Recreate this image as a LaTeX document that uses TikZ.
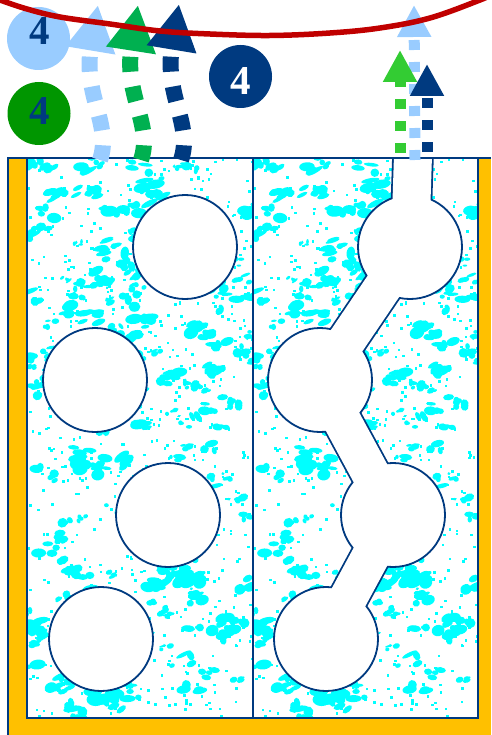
\documentclass[tikz,border=0pt]{standalone}
\usepackage{fontspec}
\setmainfont{Liberation Serif}
\usetikzlibrary{arrows.meta,positioning}
\definecolor{PoreNavy}{RGB}{0,58,128}
\definecolor{PoreSky}{RGB}{153,204,255}
\definecolor{PoreGreen}{RGB}{0,176,80}
\definecolor{PoreLime}{RGB}{51,204,51}
\definecolor{PoreLeaf}{RGB}{0,150,0}
\definecolor{PoreRed}{RGB}{192,0,0}
\definecolor{PoreGold}{RGB}{255,192,0}
\definecolor{PoreCyan}{RGB}{0,255,255}
\tikzset{
  pore/panel/.style={draw=PoreNavy, line width=1.8pt},
  pore/hole/.style={
    circle,
    draw=PoreNavy,
    line width=1.8pt,
    fill=white,
    minimum size=104pt,
    inner sep=0pt
  },
  pore/badge/.style={circle, minimum size=63pt, inner sep=0pt},
  pore/digit/.style={font=\fontsize{41}{41}\selectfont\bfseries, inner sep=0pt},
  pore/bigflow/.style={
    line width=16pt,
    dash pattern=on 15pt off 15pt,
    -{Triangle[width=47pt,length=46pt]}
  },
  pore/smallflow/.style={
    line width=11pt,
    dash pattern=on 10pt off 12pt,
    -{Triangle[width=32pt,length=32pt]}
  },
  pore/speck/.style={fill=PoreCyan}
}

\begin{document}
\begin{tikzpicture}[x=1pt,y=-1pt]
  \useasboundingbox (0,0) rectangle (491,735);

  % gold casing
  \fill[PoreGold] (8,158) rectangle (491,735);
  \draw[PoreNavy, line width=1.8pt] (8,735) -- (8,158) -- (491,158);

  % rock texture, same in both cells
  \foreach \px in {27,253}{
    \begin{scope}[shift={(\px,158)}]
      \clip (0,0) rectangle (226,560);
      \fill[white] (0,0) rectangle (226,560);
      \pgfmathsetseed{2718}
      \foreach \k in {1,...,210}{
        \pgfmathsetmacro\cx{rnd*226}
        \pgfmathsetmacro\cy{rnd*560}
        \pgfmathsetmacro\cr{rnd*50-10}
        \pgfmathsetmacro\cs{0.6+rnd*0.9}
        \foreach \j in {1,...,4}{
          \pgfmathsetmacro\bx{\cx+(rnd*18-9)*\cs}
          \pgfmathsetmacro\by{\cy+(rnd*10-5)*\cs}
          \pgfmathsetmacro\ba{(2+rnd*5)*\cs}
          \pgfmathsetmacro\bb{(1.5+rnd*3)*\cs}
          \fill[pore/speck, rotate around={\cr:(\bx,\by)}] (\bx,\by) ellipse [x radius=\ba, y radius=\bb];
        }
      }
      \foreach \k in {1,...,650}{
        \pgfmathsetmacro\bx{rnd*226}
        \pgfmathsetmacro\by{rnd*560}
        \fill[pore/speck] (\bx,\by) rectangle ++(2.6,2.6);
      }
    \end{scope}
  }

  % left cell: isolated pores
  \node[pore/hole] (hole-l1) at (185,247) {};
  \node[pore/hole] (hole-l2) at (95,380) {};
  \node[pore/hole] (hole-l3) at (168,515) {};
  \node[pore/hole] (hole-l4) at (101,639) {};

  % right cell: connected pores
  \coordinate (mouth) at (413.5,140);
  \begin{scope}
    \clip (253,158) rectangle (478,718);
    \draw[PoreNavy, line width=41.6pt, line join=round]
      (mouth) -- (410,247) -- (320,380) -- (393,515) -- (326,639);
  \end{scope}
  \node[pore/hole] (hole-r1) at (410,247) {};
  \node[pore/hole] (hole-r2) at (320,380) {};
  \node[pore/hole] (hole-r3) at (393,515) {};
  \node[pore/hole] (hole-r4) at (326,639) {};
  \begin{scope}
    \clip (253,158) rectangle (478,718);
    \draw[white, line width=38pt, line join=round]
      (mouth) -- (hole-r1.center) -- (hole-r2.center) -- (hole-r3.center) -- (hole-r4.center);
  \end{scope}

  \draw[pore/panel] (27,158) rectangle (253,718);
  \draw[pore/panel] (253,158) rectangle (478,718);

  % escaping flows, left cell
  \coordinate (skyfoot) at (100,160);
  \coordinate (skytip) at (98,5);
  \coordinate (greenfoot) at (141,160);
  \coordinate (greentip) at (138,5);
  \coordinate (navyfoot) at (181,160);
  \coordinate (navytip) at (179,4);
  \draw[pore/bigflow, PoreSky] (skyfoot) .. controls +(12,-35) and +(-15,90) .. (skytip);
  \draw[pore/bigflow, PoreGreen] (greenfoot) .. controls +(12,-35) and +(-14,90) .. (greentip);
  \draw[pore/bigflow, PoreNavy] (navyfoot) .. controls +(12,-35) and +(-15,91) .. (navytip);

  % escaping flows, right cell
  \coordinate (skyout) at (415,160);
  \coordinate (skyend) at (414,5);
  \coordinate (limeout) at (400,153);
  \coordinate (limeend) at (400,50);
  \coordinate (navyout) at (427,152);
  \coordinate (navyend) at (427,64);
  \draw[pore/smallflow, PoreSky] (skyout) -- (skyend);
  \draw[pore/smallflow, PoreLime] (limeout) -- (limeend);
  \draw[pore/smallflow, PoreNavy] (navyout) -- (navyend);

  % legend badges
  \node[pore/badge, fill=PoreSky] (skybadge) at (38.5,38.5) {};
  \node[pore/badge, fill=PoreLeaf] (leafbadge) at (39,113.5) {};
  \node[pore/badge, fill=PoreNavy] (navybadge) at (240.5,76.5) {};
  \node[pore/digit, text=PoreNavy] (skycount) at (39.5,31) {4};
  \node[pore/digit, text=PoreNavy] (leafcount) at (39.5,111.5) {4};
  \node[pore/digit, text=white] (navycount) at (241,81.5) {4};

  % boundary
  \draw[PoreRed, line width=5.5pt] plot[smooth, tension=0.6] coordinates
    {(-15,-6) (0,0) (27,9) (60,17) (110,24) (160,31) (210,34) (270,35.5) (330,33) (380,28) (430,18) (480,0) (495,-7)};
\end{tikzpicture}
\end{document}
